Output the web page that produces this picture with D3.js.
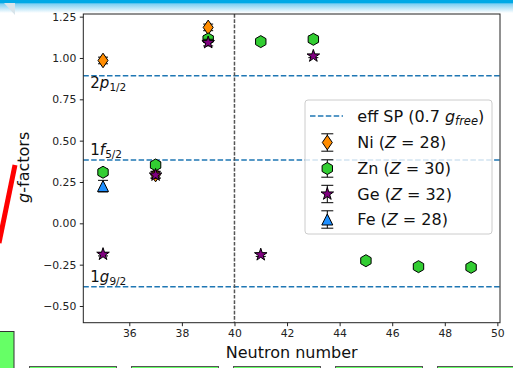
<!DOCTYPE html>
<html>
<head>
<meta charset="utf-8">
<script src="https://cdn.jsdelivr.net/npm/d3@7"></script>
<style>
  html, body { margin: 0; padding: 0; background: #fff; }
  svg { display: block; font-family: "DejaVu Sans", sans-serif; }
</style>
</head>
<body>
<svg id="chart" width="513" height="368"></svg>
<script>
// Measured g-factors by neutron number
const niN = [35, 37, 39];
const niG = [0.985, 0.295, 1.185];
const niErr = [0.02, 0.02, 0.02];

const znN = [35, 37, 39, 41, 43, 45, 47, 49];
const znG = [0.309, 0.353, 1.115, 1.099, 1.113, -0.226, -0.262, -0.266];
const znErr = [0.02, 0.02, 0.02, 0.01, 0.02, 0.01, 0.01, 0.01];

const geN = [35, 37, 39, 41, 43];
const geG = [-0.187, 0.292, 1.093, -0.190, 1.012];
const geErr = [0.01, 0.02, 0.02, 0.01, 0.01];

const feN = [35];
const feG = [0.225];
const feErr = [0.035];

// Effective single-particle values (0.7 g_free)
const spOrbit = ["2p", "1f", "1g"];
const spSub = ["1/2", "5/2", "9/2"];
const spG = [0.893, 0.383, -0.383];

const xTicks = [36, 38, 40, 42, 44, 46, 48, 50];
const yTicks = [-0.50, -0.25, 0.00, 0.25, 0.50, 0.75, 1.00, 1.25];
const shellClosure = 40;

const svg = d3.select("#chart");

// ---- page decorations around the figure ----
const defs = svg.append("defs");
const grad = defs.append("linearGradient").attr("id", "topbar")
  .attr("x1", 0).attr("y1", 0).attr("x2", 0).attr("y2", 1);
grad.append("stop").attr("offset", "0").attr("stop-color", "#00a9e6");
grad.append("stop").attr("offset", "0.2").attr("stop-color", "#00a9e6");
grad.append("stop").attr("offset", "0.3").attr("stop-color", "#7fcff2");
grad.append("stop").attr("offset", "1").attr("stop-color", "#ffffff");
svg.append("rect").attr("x", 0).attr("y", 0).attr("width", 513).attr("height", 13)
  .attr("fill", "url(#topbar)");
svg.append("path").attr("d", "M4,3 L15,3 L15,15 Z").attr("fill", "#d8e4ea");

const figure = svg.append("g");

// ---- plot area ----
const pLeft = 83.3, pRight = 500, pTop = 14, pBottom = 322.7;
const x = d3.scaleLinear().domain([34.25, 50.1]).range([pLeft, pRight]);
const y = d3.scaleLinear().domain([-0.601, 1.266]).range([pBottom, pTop]);

const plot = figure.append("g");

// single-particle reference lines
plot.selectAll("line.sp").data(spG).join("line")
  .attr("class", "sp")
  .attr("x1", pLeft).attr("x2", pRight)
  .attr("y1", d => y(d)).attr("y2", d => y(d))
  .attr("stroke", "#1f77b4").attr("stroke-width", 1.5)
  .attr("stroke-dasharray", "5.5,2.4");

// N = 40 subshell marker
plot.append("line")
  .attr("x1", x(shellClosure)).attr("x2", x(shellClosure))
  .attr("y1", pTop).attr("y2", pBottom)
  .attr("stroke", "#555").attr("stroke-width", 1.5)
  .attr("stroke-dasharray", "3.7,1.6");

// orbital labels
const labelDy = [12, -5, -5];
spG.forEach((g, i) => {
  const t = plot.append("text")
    .attr("x", x(34.25) + 7)
    .attr("y", y(g) + labelDy[i])
    .attr("font-size", 15).attr("fill", "#111");
  t.append("tspan").text(spOrbit[i][0]);
  t.append("tspan").attr("font-style", "italic").text(spOrbit[i][1]);
  t.append("tspan").attr("font-size", 10.5).attr("dy", 3).text(spSub[i]);
});

// marker shapes
function diamond() { const w = 5, h = 7.3; return `M0,${-h}L${w},0L0,${h}L${-w},0Z`; }
function hexagon(r) {
  const pts = d3.range(6).map(k => {
    const a = Math.PI / 2 + k * Math.PI / 3;
    return [r * Math.cos(a), -r * Math.sin(a)];
  });
  return "M" + pts.map(p => p.join(",")).join("L") + "Z";
}
function star(r) {
  const ri = r * 0.382;
  const pts = d3.range(10).map(k => {
    const a = -Math.PI / 2 + k * Math.PI / 5;
    const rr = k % 2 === 0 ? r : ri;
    return [rr * Math.cos(a), rr * Math.sin(a)];
  });
  return "M" + pts.map(p => p.join(",")).join("L") + "Z";
}
function triangle(s) { return `M0,${-s}L${s},${s}L${-s},${s}Z`; }

const series = [
  { name: "Ni", z: 28, n: niN, g: niG, e: niErr, color: "#ff8c00", path: diamond() },
  { name: "Zn", z: 30, n: znN, g: znG, e: znErr, color: "#32cd32", path: hexagon(6) },
  { name: "Ge", z: 32, n: geN, g: geG, e: geErr, color: "#800080", path: star(6.6) },
  { name: "Fe", z: 28, n: feN, g: feG, e: feErr, color: "#1e8fff", path: triangle(5.5) }
];

series.forEach(s => {
  const pts = s.n.map((n, i) => ({ n, g: s.g[i], e: s.e[i] }));
  const gs = plot.append("g");
  const eb = gs.selectAll("g.eb").data(pts).join("g").attr("class", "eb");
  eb.append("line")
    .attr("x1", d => x(d.n)).attr("x2", d => x(d.n))
    .attr("y1", d => y(d.g - d.e)).attr("y2", d => y(d.g + d.e))
    .attr("stroke", "#000").attr("stroke-width", 1);
  [-1, 1].forEach(sgn => {
    eb.append("line")
      .attr("x1", d => x(d.n) - 5).attr("x2", d => x(d.n) + 5)
      .attr("y1", d => y(d.g + sgn * d.e)).attr("y2", d => y(d.g + sgn * d.e))
      .attr("stroke", "#000").attr("stroke-width", 1);
  });
  gs.selectAll("path.mk").data(pts).join("path").attr("class", "mk")
    .attr("d", s.path)
    .attr("transform", d => `translate(${x(d.n)},${y(d.g)})`)
    .attr("fill", s.color).attr("stroke", "#000").attr("stroke-width", 1);
});

// frame
figure.append("rect")
  .attr("x", pLeft).attr("y", pTop).attr("width", pRight - pLeft).attr("height", pBottom - pTop)
  .attr("fill", "none").attr("stroke", "#222").attr("stroke-width", 1);

// axes
const xAxis = d3.axisBottom(x).tickValues(xTicks).tickSize(3.5).tickPadding(3.5)
  .tickFormat(d3.format("d"));
const gx = figure.append("g").attr("transform", `translate(0,${pBottom})`).call(xAxis);
const yAxis = d3.axisLeft(y).tickValues(yTicks).tickSize(3.5).tickPadding(3.5)
  .tickFormat(d => d3.format(".2f")(d).replace("-", "\u2212"));
const gy = figure.append("g").attr("transform", `translate(${pLeft},0)`).call(yAxis);
[gx, gy].forEach(g => {
  g.select(".domain").remove();
  g.selectAll(".tick line").attr("stroke", "#222");
  g.selectAll(".tick text").attr("font-size", 10.8).attr("fill", "#222")
    .attr("font-family", "DejaVu Sans, sans-serif");
});

// axis titles
figure.append("text")
  .attr("x", (pLeft + pRight) / 2).attr("y", 358)
  .attr("text-anchor", "middle").attr("font-size", 16).attr("fill", "#111")
  .text("Neutron number");
const yl = figure.append("text")
  .attr("transform", `translate(29,${(pTop + pBottom) / 2 - 1}) rotate(-90)`)
  .attr("text-anchor", "middle").attr("font-size", 16).attr("fill", "#111");
yl.append("tspan").attr("font-style", "italic").text("g");
yl.append("tspan").text("-factors");

// legend
const lg = figure.append("g").attr("transform", "translate(305,100)");
lg.append("rect").attr("width", 187).attr("height", 134).attr("rx", 3)
  .attr("fill", "#fff").attr("fill-opacity", 0.8)
  .attr("stroke", "#ccc").attr("stroke-width", 1);
const rowY = [16, 42.5, 68.5, 94, 119.5];
const hx = 22.3, tx = 52.3;
lg.append("line").attr("x1", 5).attr("x2", 38).attr("y1", rowY[0]).attr("y2", rowY[0])
  .attr("stroke", "#1f77b4").attr("stroke-width", 1.5).attr("stroke-dasharray", "5.5,2.4");
const t0 = lg.append("text").attr("x", tx).attr("y", rowY[0] + 5.5)
  .attr("font-size", 16).attr("fill", "#111");
t0.append("tspan").text("eff SP (0.7 ");
t0.append("tspan").attr("font-style", "italic").text("g");
t0.append("tspan").attr("font-style", "italic").attr("font-size", 11.5).attr("dy", 3).text("free");
t0.append("tspan").attr("dy", -3).text(")");

series.forEach((s, i) => {
  const ry = rowY[i + 1];
  const h = lg.append("g").attr("transform", `translate(${hx},${ry})`);
  h.append("line").attr("x1", 0).attr("x2", 0).attr("y1", -8.7).attr("y2", 8.7)
    .attr("stroke", "#000").attr("stroke-width", 1);
  [-8.7, 8.7].forEach(c => h.append("line").attr("x1", -6).attr("x2", 6)
    .attr("y1", c).attr("y2", c).attr("stroke", "#000").attr("stroke-width", 1));
  h.append("path").attr("d", s.path).attr("fill", s.color)
    .attr("stroke", "#000").attr("stroke-width", 1);
  const t = lg.append("text").attr("x", tx).attr("y", ry + 5.5)
    .attr("font-size", 16).attr("fill", "#111");
  t.append("tspan").text(`${s.name} (`);
  t.append("tspan").attr("font-style", "italic").text("Z");
  t.append("tspan").text(` = ${s.z})`);
});

// ---- page decorations below/left of the figure ----
svg.append("line").attr("x1", 15).attr("y1", 165).attr("x2", -1).attr("y2", 243)
  .attr("stroke", "#ff0000").attr("stroke-width", 5).attr("stroke-linecap", "butt");
svg.append("rect").attr("x", -1).attr("y", 331.5).attr("width", 15).attr("height", 40)
  .attr("fill", "#66ff66").attr("stroke", "#333").attr("stroke-width", 1);
const boxX = [29, 131, 233, 335, 437];
svg.selectAll("rect.tab").data(boxX).join("rect").attr("class", "tab")
  .attr("x", d => d + 0.5).attr("y", 366.5).attr("width", 87).attr("height", 6)
  .attr("fill", "#66ff66").attr("stroke", "#555").attr("stroke-width", 1);
</script>
</body>
</html>
